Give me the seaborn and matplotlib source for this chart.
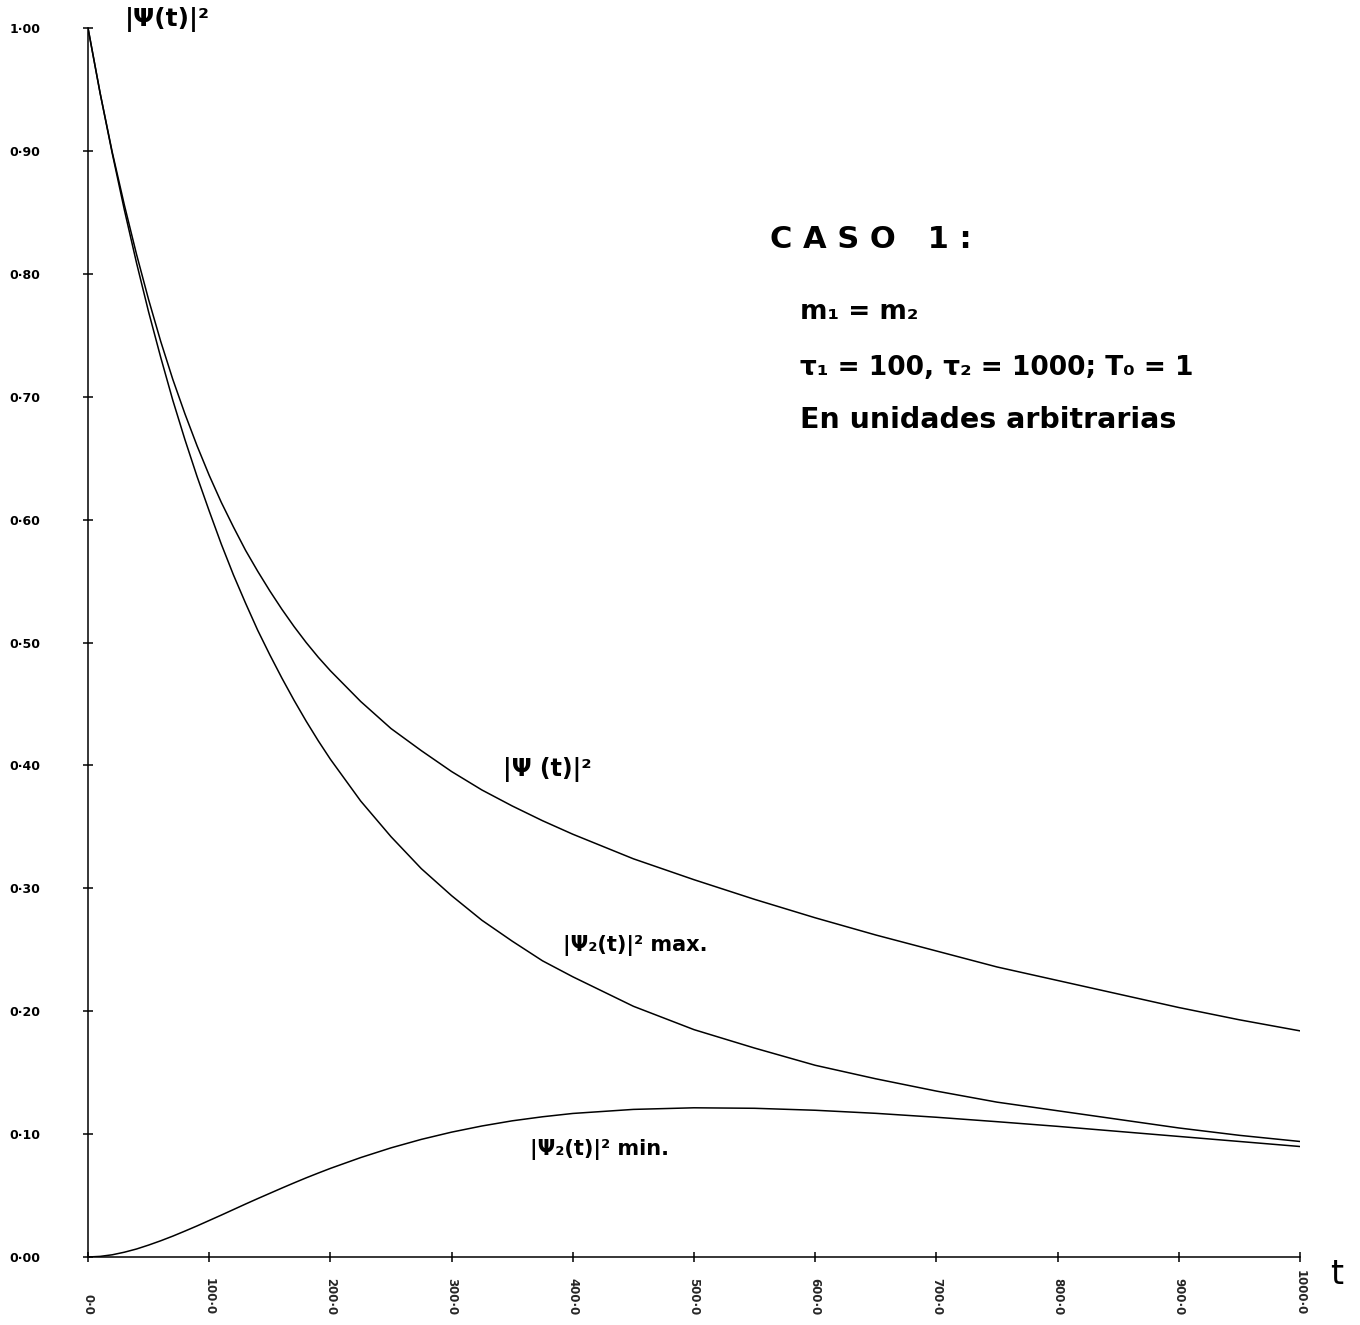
import pandas as pd
import matplotlib
matplotlib.use("Agg")
import matplotlib.pyplot as plt
import seaborn as sns

# time samples (arbitrary units)
t_vals = [0, 10, 20, 30, 40, 50, 60, 70, 80, 90, 100, 110, 120, 130, 140, 150, 160,
          170, 180, 190, 200, 225, 250, 275, 300, 325, 350, 375, 400, 450, 500, 550,
          600, 650, 700, 750, 800, 850, 900, 950, 1000]

# |Psi(t)|^2
psi_total = [1.000, 0.947, 0.899, 0.856, 0.816, 0.779, 0.745, 0.714, 0.686, 0.660,
             0.636, 0.614, 0.594, 0.575, 0.558, 0.542, 0.527, 0.513, 0.500, 0.488,
             0.477, 0.452, 0.430, 0.412, 0.395, 0.380, 0.367, 0.355, 0.344, 0.324,
             0.307, 0.291, 0.276, 0.262, 0.249, 0.236, 0.225, 0.214, 0.203, 0.193,
             0.184]

# |Psi2(t)|^2 max.
psi2_max = [1.000, 0.947, 0.898, 0.852, 0.809, 0.769, 0.732, 0.697, 0.665, 0.635,
            0.607, 0.580, 0.555, 0.532, 0.510, 0.490, 0.471, 0.453, 0.436, 0.420,
            0.405, 0.371, 0.342, 0.316, 0.294, 0.274, 0.257, 0.241, 0.228, 0.204,
            0.185, 0.170, 0.156, 0.145, 0.135, 0.126, 0.119, 0.112, 0.105, 0.099,
            0.094]

# |Psi2(t)|^2 min.
psi2_min = [0.0000, 0.0005, 0.0018, 0.0039, 0.0065, 0.0097, 0.0132, 0.0170, 0.0211,
            0.0253, 0.0297, 0.0341, 0.0386, 0.0431, 0.0475, 0.0518, 0.0561, 0.0603,
            0.0644, 0.0683, 0.0721, 0.0809, 0.0888, 0.0957, 0.1016, 0.1066, 0.1108,
            0.1141, 0.1168, 0.1201, 0.1214, 0.1210, 0.1194, 0.1169, 0.1137, 0.1101,
            0.1063, 0.1022, 0.0981, 0.0940, 0.0899]

y_ticks = [0.0, 0.1, 0.2, 0.3, 0.4, 0.5, 0.6, 0.7, 0.8, 0.9, 1.0]
y_labels = ["0·00", "0·10", "0·20", "0·30", "0·40", "0·50",
            "0·60", "0·70", "0·80", "0·90", "1·00"]
x_ticks = [0, 100, 200, 300, 400, 500, 600, 700, 800, 900, 1000]
x_labels = ["0·0", "100·0", "200·0", "300·0", "400·0", "500·0",
            "600·0", "700·0", "800·0", "900·0", "1000·0"]

df = pd.DataFrame({
    "t": t_vals * 3,
    "valor": psi_total + psi2_max + psi2_min,
    "curva": ["total"] * len(t_vals) + ["max"] * len(t_vals) + ["min"] * len(t_vals),
})

sns.set_style("white")
plt.rcParams["font.family"] = ["DejaVu Sans"]

W, H = 1360, 1325
fig = plt.figure(figsize=(W / 100, H / 100), dpi=100)
ax = fig.add_axes([88 / W, 1 - 1257 / H, (1300 - 88) / W, (1257 - 28) / H])

sns.lineplot(data=df, x="t", y="valor", units="curva", estimator=None,
             color="black", linewidth=1.1, ax=ax, legend=False)

ax.set_xlim(0, 1000)
ax.set_ylim(0, 1.0)
for s in ["top", "right"]:
    ax.spines[s].set_visible(False)
for s in ["left", "bottom"]:
    ax.spines[s].set_color("black")
    ax.spines[s].set_linewidth(1.1)

# y ticks with labels far to the left
ax.set_yticks(y_ticks)
ax.set_yticklabels(y_labels, fontsize=9, fontweight="bold")
ax.tick_params(axis="y", left=True, direction="inout", length=7, width=1.1,
               pad=31, colors="black")

# x ticks; labels rotated and bottom-aligned like the plotter output
ax.set_xticks(x_ticks)
ax.set_xticklabels([])
ax.tick_params(axis="x", bottom=True, direction="inout", length=7, width=1.1,
               colors="black")
xtr = ax.get_xaxis_transform()
for xv, lab in zip(x_ticks, x_labels):
    ax.text(xv, -0.047, lab, transform=xtr, rotation=-90, ha="center",
            va="bottom", fontsize=8.5, fontweight="bold", clip_on=False)

ax.set_xlabel("")
ax.set_ylabel("")


def ftext(px, py, s, **kw):
    fig.text(px / W, 1 - py / H, s, va="center", ha="left", color="black", **kw)


ftext(125, 20, "|Ψ(t)|²", fontsize=18, fontweight="bold")
ftext(770, 240, "C A S O   1 :", fontsize=22, fontweight="bold")
ftext(800, 312, "m₁ = m₂", fontsize=19, fontweight="bold")
ftext(800, 368, "τ₁ = 100, τ₂ = 1000; T₀ = 1", fontsize=19, fontweight="bold")
ftext(800, 420, "En unidades arbitrarias", fontsize=20.5, fontweight="bold")

ftext(503, 770, "|Ψ (t)|²", fontsize=17, fontweight="bold")
ftext(563, 945, "|Ψ₂(t)|² max.", fontsize=15, fontweight="bold")
ftext(530, 1150, "|Ψ₂(t)|² min.", fontsize=15, fontweight="bold")
ftext(1330, 1275, "t", fontsize=24)

fig.savefig("out.png", dpi=100, facecolor="white")
